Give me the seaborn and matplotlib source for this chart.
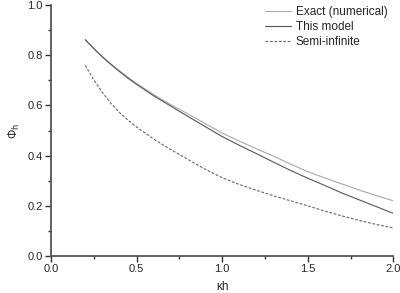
import numpy as np
import pandas as pd
import matplotlib
matplotlib.use('Agg')
import matplotlib.pyplot as plt
from matplotlib.ticker import MultipleLocator
import seaborn as sns

# values
kh = [0.2, 0.25, 0.3, 0.35, 0.4, 0.45, 0.5, 0.6, 0.7, 0.8, 0.9, 1.0, 1.1,
      1.2, 1.3, 1.4, 1.5, 1.6, 1.7, 1.8, 1.9, 2.0]
exact = [0.862, 0.827, 0.795, 0.765, 0.738, 0.712, 0.688, 0.643, 0.603, 0.566, 0.528, 0.490, 0.458,
         0.427, 0.398, 0.366, 0.336, 0.311, 0.287, 0.263, 0.241, 0.220]
model = [0.862, 0.826, 0.793, 0.763, 0.735, 0.708, 0.684, 0.638, 0.597, 0.556, 0.516, 0.476, 0.441,
         0.408, 0.374, 0.341, 0.310, 0.281, 0.251, 0.224, 0.197, 0.170]
semi = [0.760, 0.702, 0.652, 0.608, 0.572, 0.541, 0.514, 0.466, 0.424, 0.385, 0.346, 0.312, 0.285,
        0.262, 0.240, 0.220, 0.200, 0.179, 0.160, 0.142, 0.126, 0.112]
labels = ['Exact (numerical)', 'This model', 'Semi-infinite']

df = pd.DataFrame({'kh': kh * 3,
                   'phi': exact + model + semi,
                   'curve': [labels[0]] * len(kh) + [labels[1]] * len(kh) + [labels[2]] * len(kh)})

sns.set_style('ticks')
plt.rcParams['font.family'] = ['Liberation Sans', 'DejaVu Sans']

fig = plt.figure(figsize=(4, 2.93), dpi=100)
ax = fig.add_axes([0.1275, 0.126, 0.856, 0.857])

sns.lineplot(data=df, x='kh', y='phi', hue='curve', style='curve',
             palette={labels[0]: '#a8a8a8', labels[1]: '#555555', labels[2]: '#666666'},
             dashes={labels[0]: '', labels[1]: '', labels[2]: (2.5, 1.5)},
             linewidth=0.8, ax=ax)

ax.set_xlim(0, 2.0)
ax.set_ylim(0, 1.0)
ax.xaxis.set_major_locator(MultipleLocator(0.5))
ax.xaxis.set_minor_locator(MultipleLocator(0.25))
ax.yaxis.set_major_locator(MultipleLocator(0.2))
ax.yaxis.set_minor_locator(MultipleLocator(0.1))
ax.set_xticks([0.0, 0.5, 1.0, 1.5, 2.0])
ax.set_xticklabels(['0.0', '0.5', '1.0', '1.5', '2.0'])
ax.set_yticklabels(['%.1f' % v for v in ax.get_yticks()])
ax.tick_params(which='major', length=4, width=1, labelsize=8, color='#333333', pad=2)
ax.tick_params(which='minor', length=2.5, width=1, color='#333333')
sns.despine(ax=ax)
for s in ['left', 'bottom']:
    ax.spines[s].set_linewidth(1.3)
    ax.spines[s].set_color('#555555')

ax.set_xlabel('\u03bah', fontsize=8.5, labelpad=5)
ax.set_ylabel('\u03a6$_{\\rm h}$', fontsize=8.5, labelpad=4)

leg = ax.legend(loc='upper right', frameon=False, fontsize=8.5, handlelength=2.2,
                handletextpad=0.4, labelspacing=0.25, borderaxespad=0.1,
                bbox_to_anchor=(1.0, 1.02))

fig.savefig('out.png', dpi=100)
